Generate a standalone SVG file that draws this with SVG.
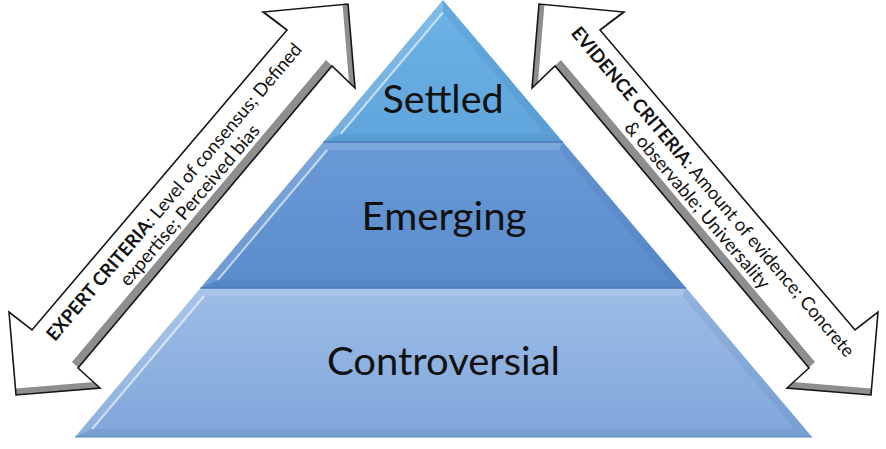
<svg xmlns="http://www.w3.org/2000/svg" xmlns:xlink="http://www.w3.org/1999/xlink" width="886" height="449" viewBox="0 0 886 449">
<style>
  .lbl{font-family:Lato,"Open Sans","Liberation Sans",sans-serif;font-size:38px;fill:#111;text-anchor:middle}
  .atxt{font-family:Lato,"Open Sans","Liberation Sans",sans-serif;font-size:18.5px;fill:#111;text-anchor:middle}
  .b{font-weight:bold}
  .hl{stroke:#ffffff;stroke-opacity:.6;stroke-width:2;fill:none}
  .lite{fill:#ffffff;fill-opacity:.12}
  .dark{fill:#1a3a70;fill-opacity:.08}
  .sep{stroke:#4a78b8;stroke-width:1.5;fill:none}
</style>
<defs>
  <linearGradient id="gSettled" x1="0" y1="0" x2="0" y2="1">
    <stop offset="0" stop-color="#6db3e6"/>
    <stop offset="1" stop-color="#5fa4db"/>
  </linearGradient>
  <linearGradient id="gEmerging" x1="0" y1="0" x2="0" y2="1">
    <stop offset="0" stop-color="#6a9bd7"/>
    <stop offset="1" stop-color="#5a8bcb"/>
  </linearGradient>
  <linearGradient id="gControv" x1="0" y1="0" x2="0" y2="1">
    <stop offset="0" stop-color="#9ebde6"/>
    <stop offset="1" stop-color="#7fa6db"/>
  </linearGradient>
  <linearGradient id="gGray" x1="0" y1="0" x2="1" y2="1">
    <stop offset="0" stop-color="#b4b4b4"/>
    <stop offset="1" stop-color="#858585"/>
  </linearGradient>
  <polygon id="arrowShape" points="348,4 355,88 332,66 78,368 100,388 16,395 9,312 32,330 287,30 263,12"/>
  <clipPath id="arrowClip"><use xlink:href="#arrowShape" href="#arrowShape"/></clipPath>
  <g id="arrowBody">
    <use xlink:href="#arrowShape" href="#arrowShape" fill="#8e8e8e"/>
    <g clip-path="url(#arrowClip)">
      <use xlink:href="#arrowShape" href="#arrowShape" fill="#ffffff" transform="translate(-6,-6)"/>
    </g>
    <use xlink:href="#arrowShape" href="#arrowShape" fill="none" stroke="#151515" stroke-width="1.6" stroke-linejoin="miter"/>
  </g>
</defs>

<g id="tier-settled">
  <path d="M443,0 L562.9,142 L323.4,142 Z" fill="url(#gSettled)"/>
  <path class="lite" d="M443,0 L323.4,142 L340.7,134 L443,12.5 Z"/>
  <path class="dark" d="M443,0 L562.9,142 L545.6,134 L443,12.5 Z"/>
  <path class="dark" d="M323.4,142 L562.9,142 L545.6,134 L340.7,134 Z"/>
  <path class="hl" d="M443,12.5 L340.7,134"/>
  <text class="lbl" x="443" y="113" textLength="121" lengthAdjust="spacingAndGlyphs">Settled</text>
</g>

<g id="tier-emerging">
  <path d="M323.4,142 L562.9,142 L686.2,288 L200.5,288 Z" fill="url(#gEmerging)"/>
  <path class="lite" d="M323.4,142 L562.9,142 L559.2,150 L327.2,150 Z"/>
  <path class="lite" d="M323.4,142 L200.5,288 L217.7,280 L327.2,150 Z"/>
  <path class="dark" d="M562.9,142 L686.2,288 L668.9,280 L559.2,150 Z"/>
  <path class="dark" d="M200.5,288 L686.2,288 L668.9,280 L217.7,280 Z"/>
  <path class="hl" d="M327.2,150 L217.7,280"/>
  <text class="lbl" x="444" y="230" textLength="165" lengthAdjust="spacingAndGlyphs">Emerging</text>
</g>

<g id="tier-controversial">
  <path d="M200.5,288 L686.2,288 L812,437 L75,437 Z" fill="url(#gControv)"/>
  <path class="lite" d="M200.5,288 L686.2,288 L682.4,296 L204.2,296 Z"/>
  <path class="lite" d="M200.5,288 L75,437 L92.2,429 L204.2,296 Z"/>
  <path class="dark" d="M686.2,288 L812,437 L794.7,429 L682.4,296 Z"/>
  <path class="dark" d="M75,437 L812,437 L794.7,429 L92.2,429 Z"/>
  <path class="hl" d="M204.2,296 L92.2,429"/>
  <text class="lbl" x="443.5" y="375" textLength="233" lengthAdjust="spacingAndGlyphs">Controversial</text>
</g>

<g id="tier-borders">
  <path class="sep" d="M323.4,142 L562.9,142"/>
  <path class="sep" d="M200.5,288 L686.2,288"/>
  <path d="M75,437 L812,437" stroke="#5a86c4" stroke-width="1.2" fill="none"/>
</g>

<g id="arrow-expert">
  <use xlink:href="#arrowBody" href="#arrowBody"/>
  <g transform="translate(182,198.5) rotate(-49.66)">
    <text class="atxt" x="0" y="-4" textLength="383" lengthAdjust="spacingAndGlyphs"><tspan class="b">EXPERT CRITERIA</tspan>: Level of consensus; Defined</text>
    <text class="atxt" x="0" y="16.5" textLength="205" lengthAdjust="spacingAndGlyphs">expertise; Perceived bias</text>
  </g>
</g>

<g id="arrow-evidence">
  <use xlink:href="#arrowBody" href="#arrowBody" transform="translate(887,0) scale(-1,1)"/>
  <g transform="translate(705,198.5) rotate(49.66)">
    <text class="atxt" x="0" y="-4" textLength="426" lengthAdjust="spacingAndGlyphs"><tspan class="b">EVIDENCE CRITERIA</tspan>: Amount of evidence; Concrete</text>
    <text class="atxt" x="0" y="16.5" textLength="213" lengthAdjust="spacingAndGlyphs">&amp; observable; Universality</text>
  </g>
</g>

<g id="connectors"/>
</svg>
